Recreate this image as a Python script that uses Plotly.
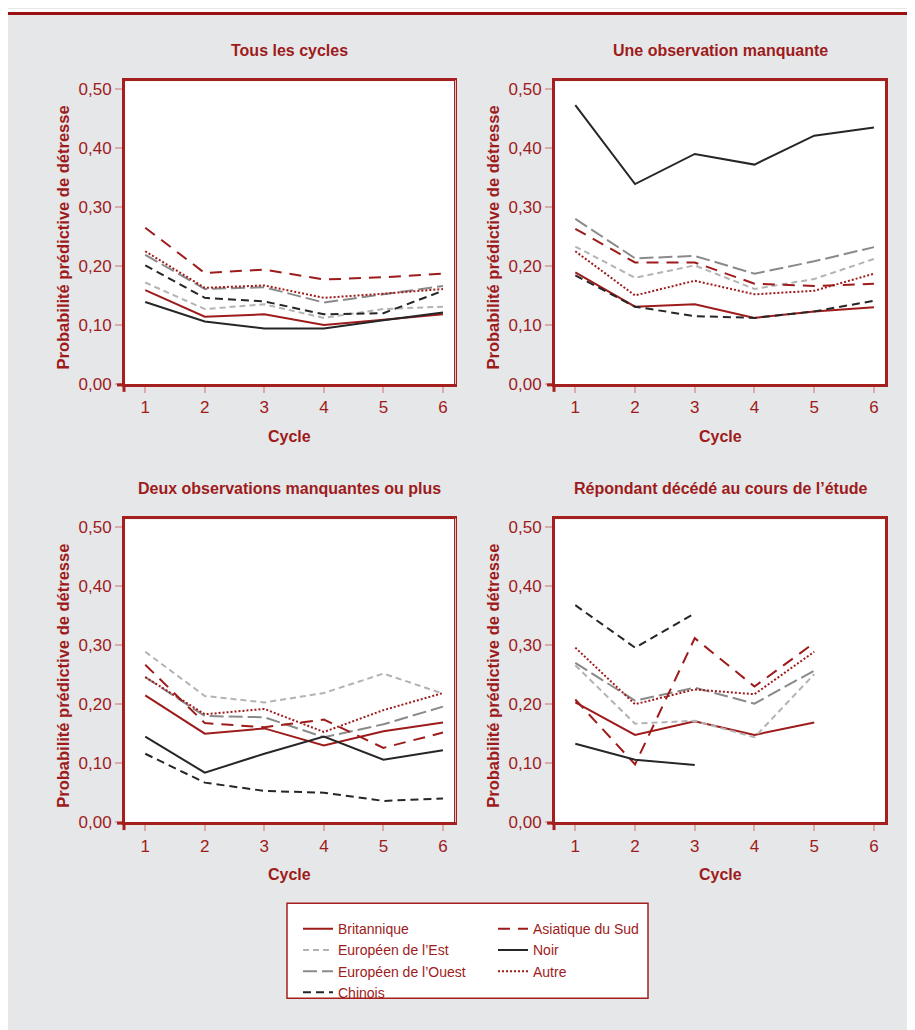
import plotly.graph_objects as go

# ---------------- data ----------------
cycles = [1, 2, 3, 4, 5, 6]
tick_vals_y = [0.0, 0.1, 0.2, 0.3, 0.4, 0.5]

panel_titles = [
    "Tous les cycles",
    "Une observation manquante",
    "Deux observations manquantes ou plus",
    "Répondant décédé au cours de l’étude",
]

series_names = [
    "Britannique",
    "Européen de l’Est",
    "Européen de l’Ouest",
    "Chinois",
    "Asiatique du Sud",
    "Noir",
    "Autre",
]

# Tous les cycles
p1_britannique = [0.159, 0.114, 0.118, 0.100, 0.109, 0.118]
p1_est = [0.172, 0.127, 0.135, 0.112, 0.127, 0.131]
p1_ouest = [0.219, 0.161, 0.164, 0.138, 0.152, 0.166]
p1_chinois = [0.201, 0.146, 0.140, 0.118, 0.120, 0.158]
p1_asiatique = [0.265, 0.188, 0.194, 0.177, 0.181, 0.187]
p1_noir = [0.139, 0.106, 0.094, 0.094, 0.108, 0.121]
p1_autre = [0.225, 0.163, 0.167, 0.146, 0.153, 0.161]

# Une observation manquante
p2_britannique = [0.189, 0.131, 0.135, 0.112, 0.123, 0.130]
p2_est = [0.233, 0.180, 0.201, 0.161, 0.178, 0.212]
p2_ouest = [0.280, 0.213, 0.217, 0.187, 0.208, 0.232]
p2_chinois = [0.184, 0.131, 0.115, 0.112, 0.123, 0.141]
p2_asiatique = [0.263, 0.206, 0.206, 0.170, 0.166, 0.170]
p2_noir = [0.473, 0.339, 0.390, 0.372, 0.421, 0.435]
p2_autre = [0.225, 0.150, 0.175, 0.152, 0.158, 0.187]

# Deux observations manquantes ou plus
p3_britannique = [0.215, 0.150, 0.159, 0.130, 0.154, 0.169]
p3_est = [0.289, 0.214, 0.203, 0.219, 0.252, 0.218]
p3_ouest = [0.246, 0.180, 0.178, 0.144, 0.166, 0.196]
p3_chinois = [0.116, 0.067, 0.053, 0.050, 0.036, 0.040]
p3_asiatique = [0.267, 0.168, 0.161, 0.174, 0.126, 0.152]
p3_noir = [0.145, 0.084, 0.116, 0.145, 0.106, 0.122]
p3_autre = [0.246, 0.183, 0.192, 0.153, 0.190, 0.219]

# Répondant décédé au cours de l'étude
p4_britannique = [0.203, 0.148, 0.171, 0.148, 0.169, None]
p4_est = [0.266, 0.167, 0.172, 0.144, 0.251, None]
p4_ouest = [0.270, 0.206, 0.228, 0.201, 0.257, None]
p4_chinois = [0.368, 0.296, 0.354, None, None, None]
p4_asiatique = [0.208, 0.098, 0.312, 0.230, 0.304, None]
p4_noir = [0.133, 0.106, 0.097, None, None, None]
p4_autre = [0.296, 0.200, 0.225, 0.217, 0.289, None]

panels = [
    [p1_britannique, p1_est, p1_ouest, p1_chinois, p1_asiatique, p1_noir, p1_autre],
    [p2_britannique, p2_est, p2_ouest, p2_chinois, p2_asiatique, p2_noir, p2_autre],
    [p3_britannique, p3_est, p3_ouest, p3_chinois, p3_asiatique, p3_noir, p3_autre],
    [p4_britannique, p4_est, p4_ouest, p4_chinois, p4_asiatique, p4_noir, p4_autre],
]

# ---------------- styles ----------------
OFF = 8  # default page margin of the html body
W, H = 915 - OFF, 1030 - OFF
RED = "#9e1b1b"
FRAME = "#a51f1f"
PINK = "#dcaaaa"
BG = "#e6e7e9"
FONT = "Liberation Sans, Arial, sans-serif"

styles = {
    "Britannique": dict(color=RED, dash="solid"),
    "Européen de l’Est": dict(color="#b3b3b3", dash="6px,4px"),
    "Européen de l’Ouest": dict(color="#8a8a8a", dash="14px,5px"),
    "Chinois": dict(color="#262626", dash="8px,5px"),
    "Asiatique du Sud": dict(color=RED, dash="12px,8px"),
    "Noir": dict(color="#262626", dash="solid"),
    "Autre": dict(color=RED, dash="2px,2px"),
}
legend_of = {
    "Britannique": "legend", "Européen de l’Est": "legend",
    "Européen de l’Ouest": "legend", "Chinois": "legend",
    "Asiatique du Sud": "legend2", "Noir": "legend2", "Autre": "legend2",
}

# plot boxes in screen pixels: (left, right, top, bottom)
boxes = [(125, 454, 81, 387), (555, 885, 81, 387), (125, 454, 524, 830), (555, 885, 524, 830)]


def px(x):
    return (x - OFF) / W


def py(y):
    return 1 - (y - OFF) / H


fig = go.Figure()

for i, (vals, box) in enumerate(zip(panels, boxes)):
    sfx = "" if i == 0 else str(i + 1)
    for name, ys in zip(series_names, vals):
        st = styles[name]
        fig.add_trace(go.Scatter(
            x=cycles, y=ys, mode="lines", name=name,
            line=dict(color=st["color"], dash=st["dash"], width=2),
            xaxis="x" + sfx, yaxis="y" + sfx,
            showlegend=(i == 0), legend=legend_of[name],
            connectgaps=False,
        ))
    l, r, t, b = box
    fig.layout["xaxis" + sfx] = dict(
        domain=[px(l), px(r)], anchor="y" + sfx, range=[0.66, 6.185],
        tickvals=cycles, ticks="outside", ticklen=6, tickwidth=1.5, tickcolor=PINK,
        showline=True, linecolor=FRAME, linewidth=3, mirror=True,
        showgrid=False, zeroline=False,
        tickfont=dict(size=17, color=RED, family=FONT), fixedrange=True,
    )
    fig.layout["yaxis" + sfx] = dict(
        domain=[py(b), py(t)], anchor="x" + sfx, range=[0, 0.5134],
        tickvals=tick_vals_y, tickformat=".2f", ticks="outside", ticklen=7,
        tickwidth=1.5, tickcolor=PINK,
        showline=True, linecolor=FRAME, linewidth=3, mirror=True,
        showgrid=False, zeroline=False,
        tickfont=dict(size=17, color=RED, family=FONT), fixedrange=True,
    )

annotations = []
shapes = []
for title, (l, r, t, b) in zip(panel_titles, boxes):
    cx = (l + r) / 2
    annotations.append(dict(
        text=title, x=px(cx), y=py(t - 31), xref="paper", yref="paper",
        xanchor="center", yanchor="middle", showarrow=False,
        font=dict(size=16, color=RED, family=FONT, weight="bold"),
    ))
    annotations.append(dict(
        text="Cycle", x=px(cx), y=py(b + 53), xref="paper", yref="paper",
        xanchor="center", yanchor="middle", showarrow=False,
        font=dict(size=16, color=RED, family=FONT, weight="bold"),
    ))
    annotations.append(dict(
        text="Probabilité prédictive de détresse", x=px(l - 62), y=py((t + b) / 2 + 5),
        xref="paper", yref="paper", xanchor="center", yanchor="middle",
        textangle=-90, showarrow=False,
        font=dict(size=16.5, color=RED, family=FONT, weight="bold"),
    ))
    # thick corner stubs
    shapes.append(dict(type="line", xref="paper", yref="paper",
                       x0=px(l - 1), x1=px(l - 1), y0=py(b), y1=py(b + 8),
                       line=dict(color=FRAME, width=3)))
    shapes.append(dict(type="line", xref="paper", yref="paper",
                       x0=px(l - 8), x1=px(l), y0=py(b + 1), y1=py(b + 1),
                       line=dict(color=FRAME, width=3)))

# page decorations
shapes += [
    dict(type="rect", xref="paper", yref="paper", x0=0, x1=1, y0=py(11), y1=1,
         fillcolor="white", line=dict(width=0), layer="below"),
    dict(type="line", xref="paper", yref="paper", x0=0, x1=1, y0=py(12.5), y1=py(12.5),
         line=dict(color="#9b1010", width=3)),
    dict(type="line", xref="paper", yref="paper", x0=px(455.5), x1=px(455.5), y0=py(80), y1=py(387),
         line=dict(color="#e4c4c4", width=1)),
    dict(type="line", xref="paper", yref="paper", x0=px(455.5), x1=px(455.5), y0=py(523), y1=py(830),
         line=dict(color="#e4c4c4", width=1)),
    dict(type="rect", xref="paper", yref="paper", x0=px(287), x1=px(648), y0=py(1008), y1=py(912),
         fillcolor="white", line=dict(color=FRAME, width=1.5), layer="below"),
]

legend_common = dict(
    orientation="v", bgcolor="rgba(0,0,0,0)", borderwidth=0,
    font=dict(size=14, color=RED, family=FONT), xanchor="left", yanchor="top",
    tracegroupgap=0, itemclick=False, itemdoubleclick=False,
)

fig.update_layout(
    width=W, height=H, margin=dict(l=0, r=0, t=0, b=0),
    paper_bgcolor=BG, plot_bgcolor="white",
    separators=", ",
    font=dict(family=FONT, color=RED),
    annotations=annotations, shapes=shapes,
    legend=dict(x=px(298), y=py(922), **legend_common),
    legend2=dict(x=px(493), y=py(922), **legend_common),
)

fig.write_html("out.html")
